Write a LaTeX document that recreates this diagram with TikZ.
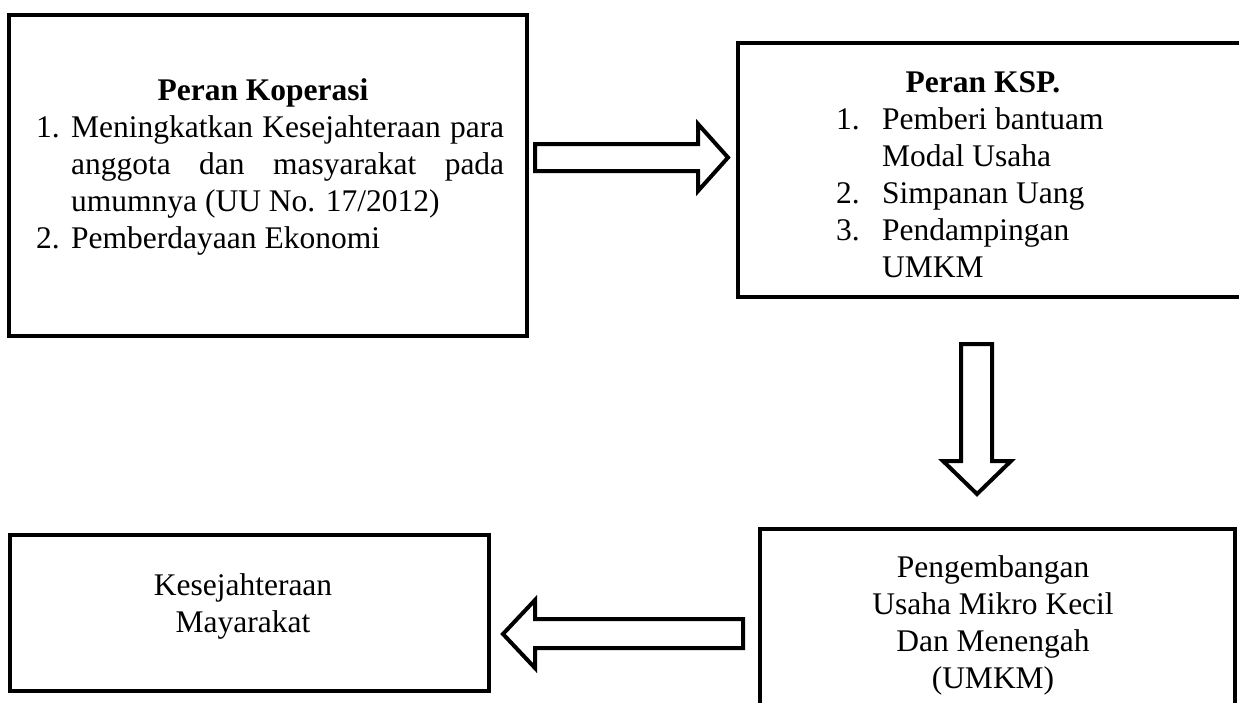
\documentclass[tikz,border=0pt]{standalone}
\usepackage{fontspec}
\setmainfont{Liberation Serif}
\begin{document}
\begin{tikzpicture}[x=1pt,y=-1pt,
  box/.style={draw=black,line width=4.5pt,rectangle,inner sep=0pt,fill=white},
  blockarrow/.style={draw=black,line width=4pt,fill=white,line join=miter},
  txt/.style={inner sep=0pt,font=\fontsize{31.5}{37}\selectfont,text=black}]
\useasboundingbox (0,0) rectangle (1239,702);
\fill[white] (0,0) rectangle (1239,702);
% boxes
\node[box,minimum width=518pt,minimum height=321pt] (b1) at (268,175.5) {};
\node[box,minimum width=512pt,minimum height=254pt] (b2) at (994,170) {};
\node[box,minimum width=479pt,minimum height=156pt] (b3) at (249.5,613) {};
\node[box,minimum width=475pt,minimum height=201pt] (b4) at (997.5,629.5) {};
% box 1 text
\node[txt,anchor=base,font=\fontsize{31.5}{37}\selectfont\bfseries] (t1) at (263,100) {Peran Koperasi};
\node[txt,anchor=base west] (l1) at (36,137) {\begin{tabular}[t]{@{}p{35pt}@{}l@{}}
1.& \makebox[433pt][s]{Meningkatkan Kesejahteraan para}\\
  & \makebox[433pt][s]{anggota dan masyarakat pada}\\
  & umumnya (UU No. 17/2012)\\
2.& Pemberdayaan Ekonomi
\end{tabular}};
% box 2 text
\node[txt,anchor=base,font=\fontsize{31.5}{37}\selectfont\bfseries] (t2) at (983,92) {Peran KSP.};
\node[txt,anchor=base west] (l2) at (836,129) {\begin{tabular}[t]{@{}p{46pt}@{}l@{}}
1.& Pemberi bantuam\\
  & Modal Usaha\\
2.& Simpanan Uang\\
3.& Pendampingan\\
  & UMKM
\end{tabular}};
% box 3 text
\node[txt,anchor=base] (t3) at (243,595) {\begin{tabular}[t]{@{}c@{}}
Kesejahteraan\\ Mayarakat
\end{tabular}};
% box 4 text
\node[txt,anchor=base] (t4) at (993,577) {\begin{tabular}[t]{@{}c@{}}
Pengembangan\\ Usaha Mikro Kecil\\ Dan Menengah\\ (UMKM)
\end{tabular}};
% block arrows
\draw[blockarrow] (535,144) -- (698,144) -- (698,124) -- (728,157.5) -- (698,191) -- (698,171) -- (535,171) -- cycle;
\draw[blockarrow] (961,344) -- (992,344) -- (992,461) -- (1011,461) -- (977,494) -- (943,461) -- (961,461) -- cycle;
\draw[blockarrow] (743,619) -- (535,619) -- (535,600) -- (503,634) -- (535,668) -- (535,648) -- (743,648) -- cycle;
\end{tikzpicture}
\end{document}
